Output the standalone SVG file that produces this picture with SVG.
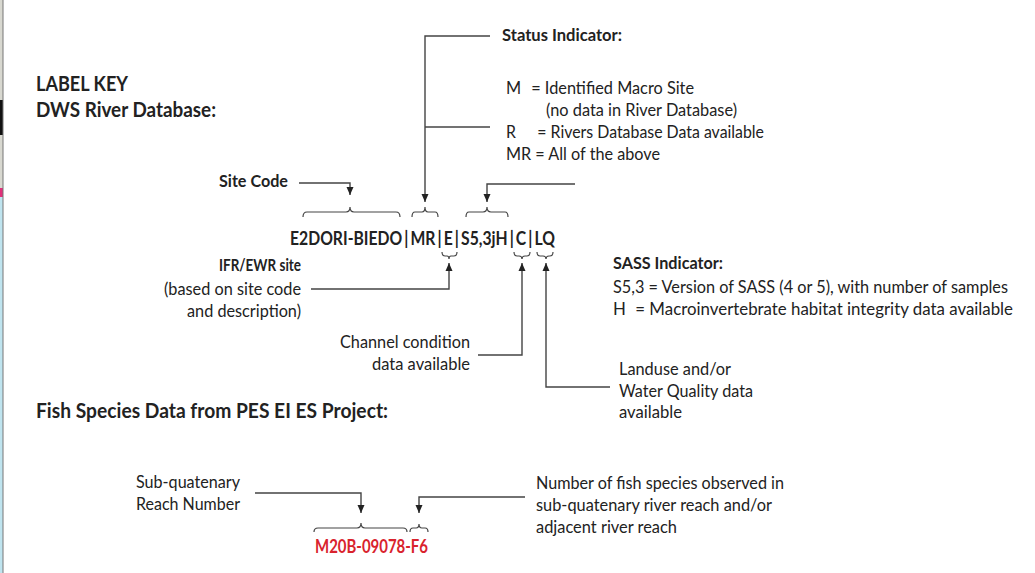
<svg xmlns="http://www.w3.org/2000/svg" width="1035" height="573" viewBox="0 0 1035 573">
<defs>
<style>
text{font-family:Lato,"Open Sans","Liberation Sans",sans-serif;fill:#222;}
.h{font-size:20px;font-weight:bold;}
.s{font-size:17.5px;font-weight:bold;}
.k{font-size:19px;font-weight:bold;}
.r{font-size:16.5px;}
.red{fill:#d9232d;}
.c{fill:none;stroke:#444;stroke-width:1.4;}
.br{fill:none;stroke:#444;stroke-width:1.2;}
</style>
<marker id="ah" markerUnits="userSpaceOnUse" markerWidth="8" markerHeight="8" refX="8" refY="4" orient="auto">
<path d="M0,0.5 L8,4 L0,7.5 z" fill="#222"/>
</marker>
</defs>
<rect width="1035" height="573" fill="#fff"/>
<g id="edge">
<rect x="0" y="0" width="3" height="573" fill="#d8d8d0"/>
<rect x="0" y="100" width="3" height="35" fill="#111"/>
<rect x="0" y="188" width="3" height="9" fill="#e0307a"/>
<rect x="0" y="197" width="3" height="376" fill="#bfe4ef"/>
<line x1="3" y1="0" x2="3" y2="573" stroke="#777" stroke-width="1"/>
</g>
<g id="titles">
<text class="h" x="36" y="91" textLength="92" lengthAdjust="spacingAndGlyphs">LABEL KEY</text>
<text class="h" x="36" y="117" textLength="180" lengthAdjust="spacingAndGlyphs">DWS River Database:</text>
<text class="h" x="36" y="418" textLength="352" lengthAdjust="spacingAndGlyphs">Fish Species Data from PES EI ES Project:</text>
</g>
<g id="code">
<text class="k" x="290" y="245" dx="0 0 0 0 0 0 0 0 0 0 0 0 2.5 2.5 0 2.5 2.5 2.5 2.5 0 0 0 0 0 2.5 2.5 2.5 2.5 0" textLength="265" lengthAdjust="spacingAndGlyphs">E2DORI-BIEDO|MR|E|S5,3jH|C|LQ</text>
</g>
<g id="brackets">
<path class="br" d="M303,217 Q303,212 307,212 H346 Q350,212 350,207 Q350,212 354,212 H396 Q400,212 400,217"/>
<path class="br" d="M412,217 Q412,212 415,212 H422 Q425,212 425,207 Q425,212 428,212 H435 Q438,212 438,217"/>
<path class="br" d="M466,217 Q466,212 469,212 H483 Q487,212 487,207 Q487,212 491,212 H505 Q508,212 508,217"/>
<path class="br" d="M442,252 Q442,256 445,256 H447 Q449,256 449,259 Q449,256 451,256 H454 Q457,256 457,252"/>
<path class="br" d="M514,252 Q514,256 517,256 H519 Q522,256 522,259 Q522,256 525,256 H527 Q530,256 530,252"/>
<path class="br" d="M537,252 Q537,256 540,256 H543 Q546,256 546,259 Q546,256 549,256 H550 Q553,256 553,252"/>
<path class="br" d="M314,532 Q314,528 318,528 H357 Q361,528 361,523 Q361,528 365,528 H403 Q407,528 407,532"/>
<path class="br" d="M410,532 Q410,528 413,528 H416 Q419,528 419,524 Q419,528 422,528 H425 Q428,528 428,532"/>
</g>
<g id="connectors">
<path class="c" d="M490,36 H425 V202" marker-end="url(#ah)"/>
<path class="c" d="M490,127 H425"/>
<path class="c" d="M299,183 H350 V195" marker-end="url(#ah)"/>
<path class="c" d="M575,184 H487 V202" marker-end="url(#ah)"/>
<path class="c" d="M311,289 H449 V263" marker-end="url(#ah)"/>
<path class="c" d="M478,355 H522 V263" marker-end="url(#ah)"/>
<path class="c" d="M610,387 H546 V263" marker-end="url(#ah)"/>
<path class="c" d="M255,493 H361 V513" marker-end="url(#ah)"/>
<path class="c" d="M525,497 H419 V513" marker-end="url(#ah)"/>
</g>
<g id="site-code">
<text class="s" x="219" y="187" textLength="69" lengthAdjust="spacingAndGlyphs">Site Code</text>
</g>
<g id="status-indicator">
<text class="s" x="502" y="41" textLength="120" lengthAdjust="spacingAndGlyphs">Status Indicator:</text>
<text class="r" x="506" y="94" dx="0 6" textLength="188" lengthAdjust="spacingAndGlyphs">M = Identified Macro Site</text>
<text class="r" x="546" y="116" textLength="191" lengthAdjust="spacingAndGlyphs">(no data in River Database)</text>
<text class="r" x="506" y="138" dx="0 18" textLength="258" lengthAdjust="spacingAndGlyphs">R = Rivers Database Data available</text>
<text class="r" x="506" y="160" textLength="154" lengthAdjust="spacingAndGlyphs">MR = All of the above</text>
</g>
<g id="ifr-ewr">
<text class="s" x="301" y="271" text-anchor="end" textLength="82" lengthAdjust="spacingAndGlyphs">IFR/EWR site</text>
<text class="r" x="301" y="295" text-anchor="end" textLength="137" lengthAdjust="spacingAndGlyphs">(based on site code</text>
<text class="r" x="301" y="317" text-anchor="end" textLength="114" lengthAdjust="spacingAndGlyphs">and description)</text>
</g>
<g id="sass-indicator">
<text class="s" x="613" y="269" textLength="110" lengthAdjust="spacingAndGlyphs">SASS Indicator:</text>
<text class="r" x="613" y="293" textLength="395" lengthAdjust="spacingAndGlyphs">S5,3 = Version of SASS (4 or 5), with number of samples</text>
<text class="r" x="613" y="315" dx="0 5" textLength="400" lengthAdjust="spacingAndGlyphs">H = Macroinvertebrate habitat integrity data available</text>
</g>
<g id="channel">
<text class="r" x="470" y="348" text-anchor="end" textLength="130" lengthAdjust="spacingAndGlyphs">Channel condition</text>
<text class="r" x="470" y="370" text-anchor="end" textLength="98" lengthAdjust="spacingAndGlyphs">data available</text>
</g>
<g id="landuse">
<text class="r" x="619" y="375" textLength="112" lengthAdjust="spacingAndGlyphs">Landuse and/or</text>
<text class="r" x="619" y="397" textLength="134" lengthAdjust="spacingAndGlyphs">Water Quality data</text>
<text class="r" x="619" y="418" textLength="63" lengthAdjust="spacingAndGlyphs">available</text>
</g>
<g id="reach">
<text class="r" x="136" y="488" textLength="104" lengthAdjust="spacingAndGlyphs">Sub-quatenary</text>
<text class="r" x="136" y="510" textLength="104" lengthAdjust="spacingAndGlyphs">Reach Number</text>
</g>
<g id="fish-count">
<text class="r" x="536" y="489" textLength="248" lengthAdjust="spacingAndGlyphs">Number of fish species observed in</text>
<text class="r" x="536" y="511" textLength="236" lengthAdjust="spacingAndGlyphs">sub-quatenary river reach and/or</text>
<text class="r" x="536" y="533" textLength="141" lengthAdjust="spacingAndGlyphs">adjacent river reach</text>
</g>
<g id="fish-code">
<text class="k red" x="315" y="553" textLength="113" lengthAdjust="spacingAndGlyphs">M20B-09078-F6</text>
</g>
</svg>
